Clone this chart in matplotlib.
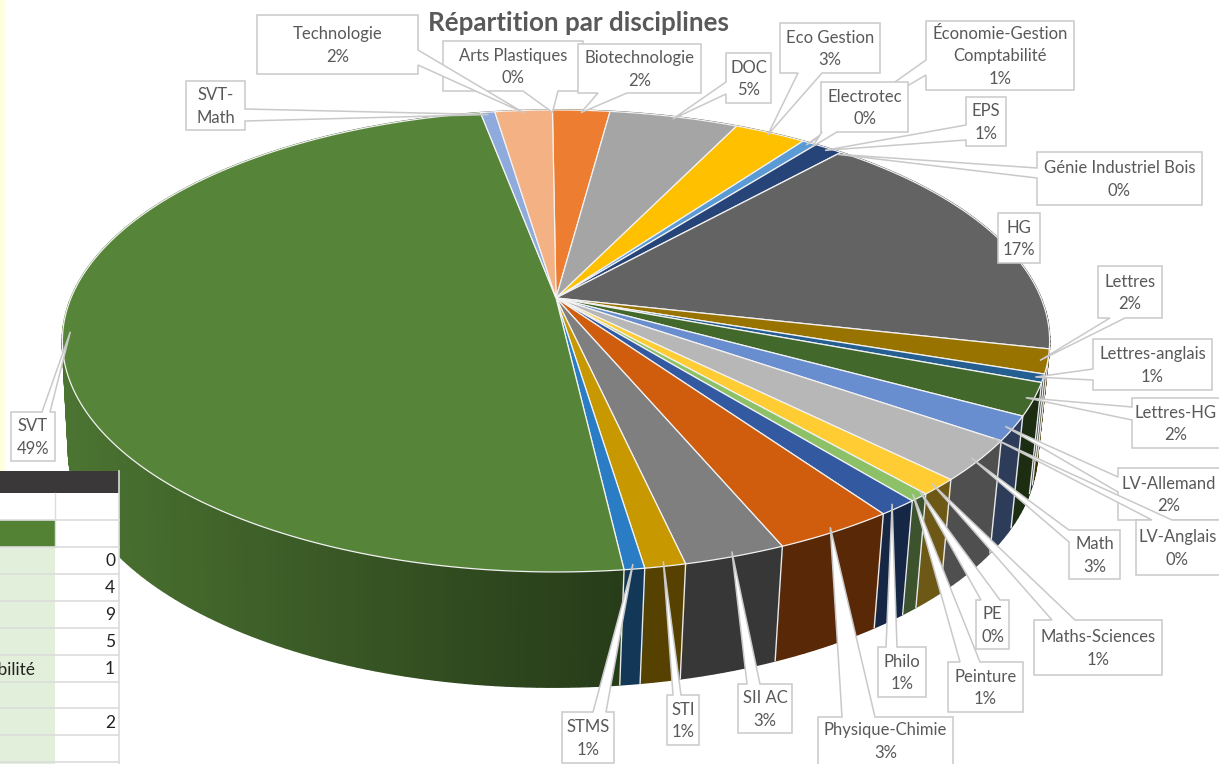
import numpy as np
import matplotlib
matplotlib.use('Agg')
import matplotlib.pyplot as plt
from matplotlib.patches import Polygon, Rectangle

plt.rcParams['font.family'] = ['Lato', 'DejaVu Sans']

# données du graphique
disciplines = ['Arts Plastiques', 'Biotechnologie', 'DOC', 'Eco Gestion',
               'Économie-Gestion\nComptabilité', 'Electrotec', 'EPS', 'Génie Industriel Bois',
               'HG', 'Lettres', 'Lettres-anglais', 'Lettres-HG', 'LV-Allemand', 'LV-Anglais',
               'Math', 'Maths-Sciences', 'PE', 'Peinture', 'Philo', 'Physique-Chimie',
               'SII AC', 'STI', 'STMS', 'SVT', 'SVT-\nMath', 'Technologie']
effectifs = [0, 4, 9, 5, 1, 0, 2, 0, 30, 3, 1, 4, 3, 0, 5, 2, 0, 1, 2, 6, 5, 2, 1, 87, 1, 4]
pourcents = ['0%', '2%', '5%', '3%', '1%', '0%', '1%', '0%', '17%', '2%', '1%', '2%', '2%', '0%',
             '3%', '1%', '0%', '1%', '1%', '3%', '3%', '1%', '1%', '49%', '', '2%']
couleurs = ['#4472C4', '#ED7D31', '#A5A5A5', '#FFC000', '#5B9BD5', '#70AD47', '#264478', '#9E480E',
            '#636363', '#997300', '#255E91', '#43682B', '#698ED0', '#F1975A', '#B7B7B7', '#FFCD33',
            '#7CAFDD', '#8CC168', '#335AA1', '#D05C0E', '#7F7F7F', '#C89800', '#2A7DC4', '#568438',
            '#8FAADC', '#F4B183']

# tableau excel en bas a gauche
table_valeurs = ['0', '4', '9', '5', '1', '', '2', '']
table_libelle = 'Économie-Gestion Comptabilité'

# boites des etiquettes : x0, y0, x1, y1, cote du pointeur, base du pointeur
boites = [(443, 41, 583, 91, 'bottom', 523, 558),
          (578, 44, 701, 93, 'bottom', 598, 627),
          (726, 53, 771, 103, 'left', 82, 94),
          (780, 23, 880, 73, 'bottom', 798, 822),
          (926, 21, 1074, 90, 'left', 60, 75),
          (821, 82, 908, 132, 'bottom', 822, 837),
          (966, 97, 1006, 146, 'left', 125, 140),
          (1037, 152, 1202, 205, 'left', 168, 178),
          (998, 213, 1040, 263, 'none', 0, 0),
          (1098, 266, 1162, 318, 'bottom', 1110, 1125),
          (1093, 339, 1212, 390, 'left', 369, 380),
          (1132, 398, 1225, 448, 'left', 407, 420),
          (1118, 468, 1225, 520, 'left', 477, 492),
          (1136, 520, 1225, 575, 'top', 1152, 1172),
          (1069, 530, 1120, 579, 'left', 530, 542),
          (1034, 620, 1162, 675, 'top', 1052, 1075),
          (976, 600, 1009, 649, 'top', 981, 1000),
          (948, 662, 1023, 712, 'top', 960, 980),
          (878, 647, 926, 697, 'top', 886, 897),
          (818, 717, 953, 775, 'top', 842, 875),
          (738, 684, 792, 733, 'top', 747, 760),
          (667, 695, 699, 745, 'top', 673, 681),
          (562, 712, 614, 763, 'top', 593, 606),
          (11, 412, 55, 461, 'top', 42, 50),
          (186, 81, 245, 130, 'right', 109, 121),
          (257, 15, 418, 74, 'right', 50, 65)]

# projection du camembert 3D (perspective)
P = 0.186
HAUT = (556, 298, 485, 223)
BAS = (553, 407, 476, 228)
DEPART = np.deg2rad(-0.5)
FOND = '#C9C9C9'


def projete(theta, plan, r=1.0):
    cx, cy, a, b = plan
    u, v = r * np.sin(theta), r * np.cos(theta)
    w = 1 + P * v
    return cx + a * u / w, cy - b * v / w


def ombre(x):
    # le flanc s'assombrit de gauche a droite
    if x < 560:
        return 0.88 + (0.50 - 0.88) * (x - 62) / (560 - 62)
    return max(0.43, 0.50 - 0.07 * (x - 560) / 100)


def assombrit(couleur, f):
    return tuple(c * f for c in matplotlib.colors.to_rgb(couleur))


def callout(ax, boite, pointe, texte):
    x0, y0, x1, y1, cote, b1, b2 = boite
    tx, ty = pointe
    if cote == 'top':
        pts = [(x0, y0), (b1, y0), (tx, ty), (b2, y0), (x1, y0), (x1, y1), (x0, y1)]
    elif cote == 'bottom':
        pts = [(x0, y0), (x1, y0), (x1, y1), (b2, y1), (tx, ty), (b1, y1), (x0, y1)]
    elif cote == 'left':
        pts = [(x0, y0), (x1, y0), (x1, y1), (x0, y1), (x0, b2), (tx, ty), (x0, b1)]
    elif cote == 'right':
        pts = [(x0, y0), (x1, y0), (x1, b1), (tx, ty), (x1, b2), (x1, y1), (x0, y1)]
    else:
        pts = [(x0, y0), (x1, y0), (x1, y1), (x0, y1)]
    ax.add_patch(Polygon(pts, closed=True, fc='white', ec=FOND, lw=1.1, zorder=5))
    ax.text((x0 + min(x1, 1219)) / 2, (y0 + min(y1, 764)) / 2 + 1, texte, ha='center', va='center',
            fontsize=12, color='#595959', linespacing=1.5, zorder=6)


fig = plt.figure(figsize=(12.19, 7.64), dpi=100)
ax = fig.add_axes([0, 0, 1, 1])
ax.set_xlim(0, 1219)
ax.set_ylim(764, 0)
ax.axis('off')

ax.add_patch(Rectangle((0, 0), 5, 471, fc='#FFFFE0', ec='none', zorder=0))

bornes = DEPART + np.cumsum([0] + effectifs) / sum(effectifs) * 2 * np.pi

# flancs : petits quadrilateres, du fond vers l'avant
quads = []
for i, eff in enumerate(effectifs):
    if eff == 0:
        continue
    angles = np.linspace(bornes[i], bornes[i + 1], max(2, int(eff * 2)))
    for a0, a1 in zip(angles[:-1], angles[1:]):
        quads.append((np.cos((a0 + a1) / 2), a0, a1, couleurs[i]))
quads.sort(key=lambda q: -q[0])
for _, a0, a1, c in quads:
    p = [projete(a0, HAUT), projete(a1, HAUT), projete(a1, BAS), projete(a0, BAS)]
    col = assombrit(c, ombre(p[0][0]))
    ax.add_patch(Polygon(p, closed=True, fc=col, ec=col, lw=1.2, joinstyle='bevel', zorder=1))

# separations blanches sur le flanc
for i, eff in enumerate(effectifs):
    a = bornes[i + 1]
    if eff > 0 and np.pi * 0.5 < a < np.pi * 0.99:
        xa, ya = projete(a, HAUT)
        xb, yb = projete(a, BAS)
        ax.plot([xa, xb], [ya, yb], color='#E8E8E8', lw=1.0, zorder=2)

# dessus du camembert
for i, eff in enumerate(effectifs):
    if eff == 0:
        continue
    angles = np.linspace(bornes[i], bornes[i + 1], max(3, int(eff * 6)))
    pts = [(HAUT[0], HAUT[1])] + [projete(a, HAUT) for a in angles]
    ax.add_patch(Polygon(pts, closed=True, fc=couleurs[i], ec='#F2F2F2', lw=0.9, zorder=3))

ax.text(578, 23, 'Répartition par disciplines', ha='center', va='center', fontsize=18.7,
        fontweight='bold', color='#595959', zorder=4)

# etiquettes
for i, nom in enumerate(disciplines):
    milieu = (bornes[i] + bornes[i + 1]) / 2
    pointe = projete(milieu, HAUT, 0.985)
    texte = nom + ('\n' + pourcents[i] if pourcents[i] else '')
    callout(ax, boites[i], pointe, texte)

# morceau de tableau excel, par dessus le graphique
LIGNE = '#DCDCDC'
ax.add_patch(Rectangle((0, 493), 119, 271, fc='white', ec='none', zorder=7))
ax.add_patch(Rectangle((0, 471), 119, 22, fc='#3A3838', ec='none', zorder=8))
ax.add_patch(Rectangle((0, 520), 55, 27, fc='#548235', ec='none', zorder=8))
ax.add_patch(Rectangle((0, 547), 55, 217, fc='#E2EFDA', ec='none', zorder=8))
for y in [520, 547, 574, 601, 628, 655, 682, 708, 735, 762]:
    ax.plot([0, 119], [y, y], color=LIGNE, lw=1.2, zorder=9)
ax.plot([54.5, 54.5], [493, 547], color=LIGNE, lw=1.0, zorder=9)
ax.plot([118.5, 118.5], [471, 764], color=LIGNE, lw=1.2, zorder=9)
for k, val in enumerate(table_valeurs):
    ax.text(115, 561 + 27 * k, val, ha='right', va='center', fontsize=12.5, color='#222222', zorder=10)
ax.text(35, 669, table_libelle, ha='right', va='center', fontsize=12.5, color='#222222',
        zorder=10, clip_on=True)

fig.savefig('out.png', dpi=100)
